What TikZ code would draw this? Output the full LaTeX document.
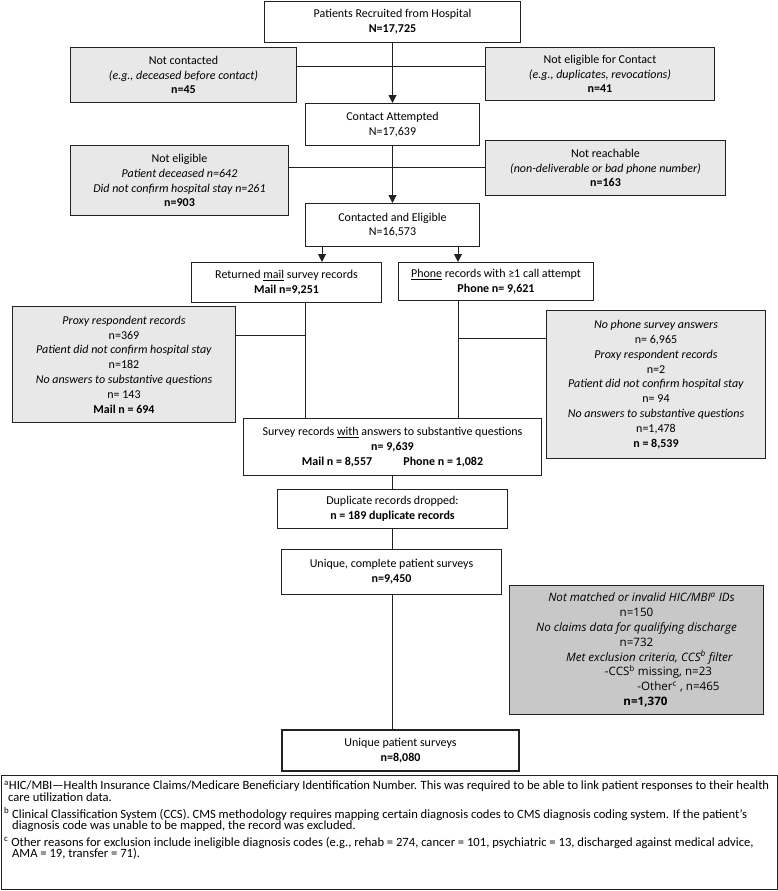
\documentclass[tikz,border=0pt]{standalone}
\usepackage{fontspec}
\setmainfont{Carlito}
\newfontfamily\darkfont{Open Sans}
\usetikzlibrary{arrows.meta}
\definecolor{lightg}{HTML}{E8E8E8}
\definecolor{darkg}{HTML}{C8C8C8}
\definecolor{edge}{HTML}{222222}
\newcommand\mainfs{\fontsize{12pt}{14.8pt}\selectfont}
\newcommand\darkfs{\darkfont\fontsize{11.6pt}{14.8pt}\selectfont}
\newcommand\footfs{\fontsize{12.6pt}{11.8pt}\selectfont}
\tikzset{
  box/.style={draw=edge, line width=1pt, inner sep=0pt, anchor=north west, align=center, font=\mainfs, fill=white},
  gbox/.style={box, fill=lightg},
  dbox/.style={box, fill=darkg, font=\darkfs},
  conn/.style={draw=edge, line width=1pt},
  arr/.style={conn, -{Triangle[width=8pt,length=8pt]}}
}
\begin{document}
\begin{tikzpicture}[x=1pt,y=-1pt]
\useasboundingbox (0,0) rectangle (778,891);
% boxes
\node[box, minimum width=256pt, minimum height=41pt] (top) at (264,1)
  {Patients Recruited from Hospital\\\textbf{N=17,725}};
\node[gbox, minimum width=226pt, minimum height=55pt] (nc) at (70,47)
  {Not contacted\\\textit{(e.g., deceased before contact)}\\\textbf{n=45}};
\node[gbox, minimum width=229pt, minimum height=53pt] (nec) at (485,47)
  {Not eligible for Contact\\\textit{(e.g., duplicates, revocations)}\\\textbf{n=41}};
\node[box, minimum width=174pt, minimum height=42pt] (ca) at (305,103)
  {Contact Attempted\\N=17,639};
\node[gbox, minimum width=218pt, minimum height=70pt] (ne) at (70,145)
  {Not eligible\\\textit{Patient deceased n=642}\\\textit{Did not confirm hospital stay n=261}\\\textbf{n=903}};
\node[gbox, minimum width=240pt, minimum height=55pt] (nr) at (485,140)
  {Not reachable\\\textit{(non-deliverable or bad phone number)}\\\textbf{n=163}};
\node[box, minimum width=174pt, minimum height=43pt] (ce) at (305,203)
  {Contacted and Eligible\\N=16,573};
\node[box, minimum width=190pt, minimum height=40pt] (mail) at (191,262)
  {Returned \underline{mail} survey records\\\textbf{Mail n=9,251}};
\node[box, minimum width=195pt, minimum height=38pt] (phone) at (398,262)
  {\underline{Phone} records with ≥1 call attempt\\\textbf{Phone n= 9,621}};
\node[gbox, minimum width=223pt, minimum height=116pt] (lg) at (12,306)
  {\textit{Proxy respondent records}\\n=369\\\textit{Patient did not confirm hospital stay}\\n=182\\\textit{No answers to substantive questions}\\n= 143\\\textbf{Mail n = 694}};
\node[gbox, minimum width=219pt, minimum height=148pt] (rg) at (546,310)
  {\textit{No phone survey answers}\\n= 6,965\\\textit{Proxy respondent records}\\n=2\\\textit{Patient did not confirm hospital stay}\\n= 94\\\textit{No answers to substantive questions}\\n=1,478\\\textbf{n = 8,539}};
\node[box, minimum width=298pt, minimum height=57pt] (sr) at (243,418)
  {Survey records \underline{with} answers to substantive questions\\\textbf{n= 9,639}\\\textbf{Mail n = 8,557\hspace{2.6em}Phone n = 1,082}};
\node[box, minimum width=230pt, minimum height=39pt] (dup) at (277,489)
  {Duplicate records dropped:\\\textbf{n = 189 duplicate records}};
\node[box, minimum width=220pt, minimum height=45pt] (uc) at (281,549)
  {Unique, complete patient surveys\\\textbf{n=9,450}};
\node[dbox, minimum width=254pt, minimum height=129pt] (dk) at (509,585)
  {\hspace*{10pt}\textit{Not matched or invalid HIC/MBI\textsuperscript{a} IDs}\\n=150\\\textit{No claims data for qualifying discharge}\\n=732\\\hspace*{26pt}\textit{Met exclusion criteria, CCS\textsuperscript{b} filter}\\\hspace*{44pt}-CCS\textsuperscript{b} missing, n=23\\\hspace*{84pt}-Other\textsuperscript{c} , n=465\\\hspace*{18pt}\textbf{n=1,370}};
\node[box, line width=2pt, minimum width=237pt, minimum height=41pt] (up) at (281,729)
  {Unique patient surveys\\\textbf{n=8,080}};
% footnotes
\node[draw=edge, line width=1pt, inner sep=0pt, anchor=north west, minimum width=776pt, minimum height=114pt] (fn) at (1,775) {};
\node[anchor=north west, inner sep=0pt, align=left, font=\footfs] (fntext) at (4,781)
  {\textsuperscript{a}HIC/MBI—Health Insurance Claims/Medicare Beneficiary Identification Number. This was required to be able to link patient responses to their health\\
   \hspace*{4pt}care utilization data.\\[4.5pt]
   \textsuperscript{b} Clinical Classification System (CCS). CMS methodology requires mapping certain diagnosis codes to CMS diagnosis coding system. If the patient’s\\
   \hspace*{8pt}diagnosis code was unable to be mapped, the record was excluded.\\[4.5pt]
   \textsuperscript{c} Other reasons for exclusion include ineligible diagnosis codes (e.g., rehab = 274, cancer = 101, psychiatric = 13, discharged against medical advice,\\
   \hspace*{8pt}AMA = 19, transfer = 71).};
% connectors
\coordinate (mj) at (305,335);
\coordinate (pj) at (458,338);
\draw[arr] (top.south) -- (top.south |- ca.north);
\draw[conn] (nc.east |- 0,67) -- (nec.west |- 0,67);
\draw[arr] (top.south |- ca.south) -- (top.south |- ce.north);
\draw[conn] (ne.east |- 0,167) -- (nr.west |- 0,167);
\draw[arr] (ce.south -| 322,0) -- (mail.north -| 322,0);
\draw[arr] (ce.south -| 458,0) -- (phone.north -| 458,0);
\draw[conn] (mail.south -| mj) -- (sr.north -| mj);
\draw[conn] (phone.south -| pj) -- (sr.north -| pj);
\draw[conn] (lg.east |- mj) -- (mj);
\draw[conn] (pj) -- (rg.west |- pj);
\draw[conn] (sr.south -| top.south) -- (dup.north -| top.south);
\draw[conn] (dup.south -| top.south) -- (uc.north -| top.south);
\draw[conn] (uc.south -| top.south) -- (up.north -| top.south);
\end{tikzpicture}
\end{document}
